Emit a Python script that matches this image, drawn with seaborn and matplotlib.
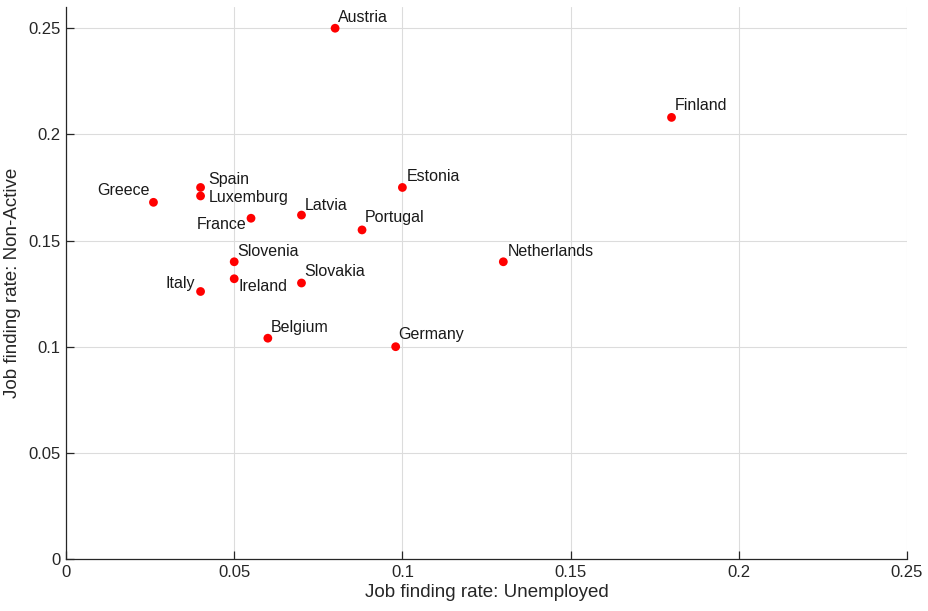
import numpy as np
import pandas as pd
import matplotlib
matplotlib.use('Agg')
import matplotlib.pyplot as plt
import seaborn as sns

# Data
countries = ['Austria', 'Finland', 'Estonia', 'Spain', 'Luxemburg', 'Greece',
             'France', 'Latvia', 'Portugal', 'Slovenia', 'Ireland', 'Italy',
             'Slovakia', 'Netherlands', 'Belgium', 'Germany']
unemployed = [0.080, 0.180, 0.100, 0.040, 0.040, 0.026,
              0.055, 0.070, 0.088, 0.050, 0.050, 0.040,
              0.070, 0.130, 0.060, 0.098]
non_active = [0.250, 0.208, 0.175, 0.175, 0.171, 0.168,
              0.1605, 0.162, 0.155, 0.140, 0.132, 0.126,
              0.130, 0.140, 0.104, 0.100]

df = pd.DataFrame({'country': countries, 'unemployed': unemployed,
                   'non_active': non_active})

# label offsets in pixels (dx, dy, horizontal alignment)
label_pos = {
    'Austria': (3, 11, 'left'), 'Finland': (3, 12, 'left'),
    'Estonia': (4, 11, 'left'), 'Spain': (8, 8, 'left'),
    'Luxemburg': (8, -2, 'left'), 'Greece': (-4, 12, 'right'),
    'France': (-5, -6, 'right'), 'Latvia': (3, 10, 'left'),
    'Portugal': (3, 12, 'left'), 'Slovenia': (3, 10, 'left'),
    'Ireland': (4, -8, 'left'), 'Italy': (-6, 8, 'right'),
    'Slovakia': (3, 11, 'left'), 'Netherlands': (4, 10, 'left'),
    'Belgium': (3, 11, 'left'), 'Germany': (3, 12, 'left'),
}

sns.set_style('white')
plt.rcParams['font.family'] = ['Liberation Sans', 'DejaVu Sans']

fig = plt.figure(figsize=(9.29, 6.11), dpi=100)
ax = fig.add_axes([66 / 929, 1 - 559 / 611, (907 - 66) / 929, (559 - 7) / 611])

sns.scatterplot(data=df, x='unemployed', y='non_active', ax=ax,
                color='#ff0000', s=40, edgecolor='none', zorder=3)

for _, row in df.iterrows():
    dx, dy, ha = label_pos[row['country']]
    ax.annotate(row['country'], (row['unemployed'], row['non_active']),
                xytext=(dx, dy), textcoords='offset pixels',
                ha=ha, va='center', fontsize=11.5, color='#1a1a1a')

ax.set_xlim(0, 0.25)
ax.set_ylim(0, 0.26)
ax.set_xticks([0, 0.05, 0.1, 0.15, 0.2, 0.25])
ax.set_xticklabels(['0', '0.05', '0.1', '0.15', '0.2', '0.25'])
ax.set_yticks([0, 0.05, 0.1, 0.15, 0.2, 0.25])
ax.set_yticklabels(['0', '0.05', '0.1', '0.15', '0.2', '0.25'])

ax.grid(True, color='#dcdcdc', linewidth=0.8)
ax.set_axisbelow(True)
for side in ['top', 'right']:
    ax.spines[side].set_visible(False)
for side in ['left', 'bottom']:
    ax.spines[side].set_color('#262626')
    ax.spines[side].set_linewidth(0.9)

ax.tick_params(direction='in', length=6, width=0.9, colors='#262626',
               labelsize=12, left=True, bottom=True, pad=4)

ax.set_xlabel('Job finding rate: Unemployed', fontsize=13.5, color='#262626', labelpad=3)
ax.set_ylabel('Job finding rate: Non-Active', fontsize=13.5, color='#262626', labelpad=5)

fig.savefig('out.png', dpi=100)
